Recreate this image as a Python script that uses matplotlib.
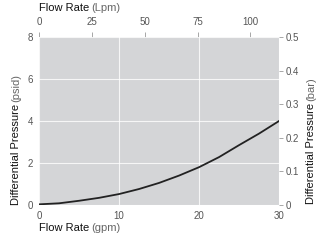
import numpy as np
import matplotlib
matplotlib.use('Agg')
import matplotlib.pyplot as plt

# flow (gpm) vs differential pressure (psid)
flow_gpm = [0, 2.5, 5, 7.5, 10, 12.5, 15, 17.5, 20, 22.5, 25, 27.5, 30]
dp_psid = [0.03, 0.08, 0.2, 0.34, 0.52, 0.76, 1.05, 1.4, 1.8, 2.28, 2.85, 3.4, 4.0]

gpm_ticks = [0, 10, 20, 30]
lpm_ticks = [0, 25, 50, 75, 100]
psid_ticks = [0, 2, 4, 6, 8]
bar_ticks = [0, 0.1, 0.2, 0.3, 0.4, 0.5]
bar_labels = ['0', '0.1', '0.2', '0.3', '0.4', '0.5']

plt.rcParams['font.family'] = ['Liberation Sans', 'DejaVu Sans']
tick_col = '#555555'
dark = '#111111'
light = '#666666'
fs = 7

fig = plt.figure(figsize=(3.31, 2.42), dpi=100)
ax = fig.add_axes([0.118, 0.153, 0.725, 0.694])
ax.set_facecolor('#d4d5d7')
for s in ax.spines.values():
    s.set_visible(False)

ax.plot(flow_gpm, dp_psid, color='#222222', lw=1.3, zorder=3)
ax.set_xlim(0, 30)
ax.set_ylim(0, 8)
ax.set_xticks(gpm_ticks)
ax.set_yticks(psid_ticks)
ax.grid(True, color='white', lw=0.8, alpha=0.8)
ax.set_axisbelow(True)
ax.tick_params(axis='both', length=0, labelsize=fs, labelcolor=tick_col, pad=4.3)

# top axis in Lpm
top = ax.secondary_xaxis('top', functions=(lambda g: g * 3.785, lambda l: l / 3.785))
top.set_xticks(lpm_ticks)
top.tick_params(length=3.5, width=0.6, color='#999999', labelsize=fs, labelcolor=tick_col, pad=4)
top.spines['top'].set_visible(False)

# right axis in bar
right = ax.secondary_yaxis('right', functions=(lambda p: p / 16.0, lambda b: b * 16.0))
right.set_yticks(bar_ticks)
right.set_yticklabels(bar_labels)
right.tick_params(length=3, width=0.6, color='#999999', labelsize=fs, labelcolor=tick_col, pad=1.5)
right.spines['right'].set_visible(False)

fig.canvas.draw()
r = fig.canvas.get_renderer()
W, H = fig.bbox.width, fig.bbox.height


def two_part(x, y, a, b, rot=0):
    t1 = fig.text(x / W, y / H, a, fontsize=8, color=dark, rotation=rot,
                  ha='left', va='bottom' if rot else 'center')
    bb = t1.get_window_extent(renderer=r)
    if rot:
        fig.text(x / W, (bb.y1 + 2) / H, b, fontsize=8, color=light, rotation=rot,
                 ha='left', va='bottom')
    else:
        fig.text((bb.x1 + 2) / W, y / H, b, fontsize=8, color=light,
                 ha='left', va='center')


two_part(39, H - 8, 'Flow Rate', '(Lpm)')
two_part(39, H - 228, 'Flow Rate', '(gpm)')
two_part(11, H - 205, 'Differential Pressure', '(psid)', rot=90)
two_part(306, H - 204, 'Differential Pressure', '(bar)', rot=90)

fig.savefig('out.png', dpi=100)
